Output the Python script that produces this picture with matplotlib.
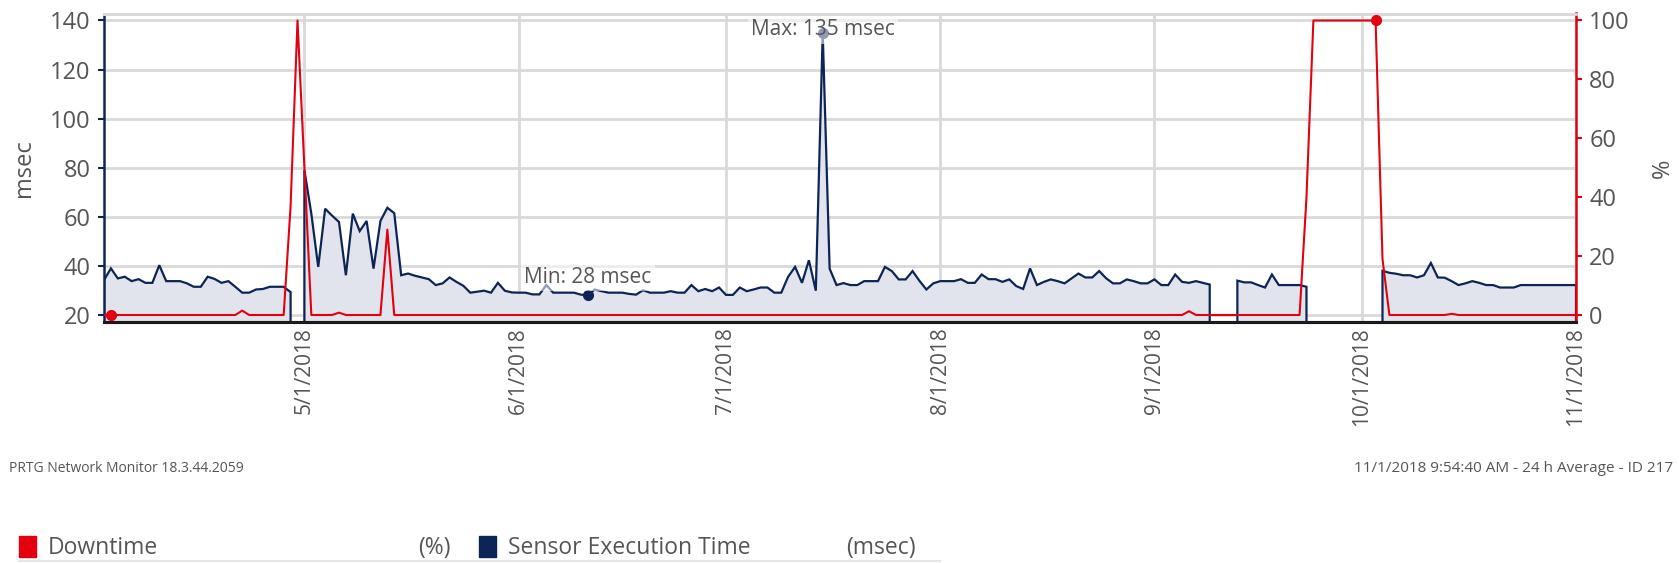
import numpy as np
import pandas as pd
import matplotlib
matplotlib.use("Agg")
import matplotlib.pyplot as plt
import matplotlib.dates as mdates
from matplotlib.patches import Rectangle
from matplotlib.lines import Line2D

plt.rcParams['font.family'] = ['Open Sans', 'DejaVu Sans']

# ---------------- data ----------------
start_date = "2018-04-02"
nan = np.nan
exec_time_msec = [
    34.2, 39.0, 34.9, 35.6, 33.8, 34.6, 33.1, 33.1, 40.3, 33.8,   # 0-9
    33.8, 33.8, 32.9, 31.5, 31.5, 35.6, 34.7, 33.1, 33.8, 31.5,   # 10-19
    29.1, 29.1, 30.4, 30.6, 31.5, 31.5, 31.5, 29.3, nan, 79.0,    # 20-29
    61.3, 39.6, 63.3, 60.5, 57.9, 36.2, 61.3, 54.2, 58.3, 38.9,   # 30-39
    58.3, 63.7, 61.5, 36.2, 36.9, 36.0, 35.3, 34.6, 32.2, 32.9,   # 40-49
    35.3, 33.5, 31.9, 29.1, 29.5, 29.9, 29.1, 33.1, 29.9, 29.2,   # 50-59
    29.1, 29.1, 28.4, 28.4, 32.2, 29.1, 29.1, 29.1, 29.1, 28.3,   # 60-69
    28.0, 30.4, 29.7, 29.1, 29.1, 29.1, 28.6, 28.3, 30.1, 29.1,   # 70-79
    29.1, 29.1, 29.7, 29.1, 29.1, 32.2, 29.7, 30.6, 29.7, 31.2,   # 80-89
    28.2, 28.2, 31.2, 29.7, 30.4, 31.2, 31.2, 29.1, 29.1, 35.6,   # 90-99
    39.6, 33.1, 42.3, 29.9, 135.0, 38.9, 32.2, 33.0, 32.2, 32.2,  # 100-109
    33.8, 33.8, 33.8, 39.6, 37.9, 34.5, 34.5, 37.9, 33.9, 30.4,   # 110-119
    32.9, 33.8, 33.8, 33.8, 34.6, 33.1, 33.1, 36.5, 34.6, 34.6,   # 120-129
    33.5, 34.5, 31.8, 30.6, 39.0, 32.2, 33.5, 34.5, 33.8, 32.9,   # 130-139
    34.9, 36.9, 35.3, 35.3, 37.9, 35.0, 32.9, 32.9, 34.5, 33.8,   # 140-149
    32.9, 32.9, 34.5, 32.2, 32.2, 36.5, 33.5, 33.1, 33.8, 33.1,   # 150-159
    32.4, nan, nan, nan, 34.0, 33.3, 33.3, 32.2, 31.2, 36.5,      # 160-169
    32.2, 32.2, 32.2, 32.2, 31.5, nan, nan, nan, nan, nan,        # 170-179
    nan, nan, nan, nan, nan, 38.0, 37.2, 36.8, 36.2, 36.2,        # 180-189
    35.3, 36.2, 41.2, 35.3, 35.2, 33.8, 32.2, 32.9, 33.8, 33.1,   # 190-199
    32.2, 32.2, 31.2, 31.2, 31.2, 32.2, 32.2, 32.2, 32.2, 32.2,   # 200-209
    32.2, 32.2, 32.2, 32.2,                                       # 210-213
]
downtime_pct = [0.0] * len(exec_time_msec)
downtime_events = {20: 1.5, 27: 37.0, 28: 100.0, 29: 50.0, 34: 0.8, 41: 29.0,
                   157: 1.3, 174: 40.0, 175: 100.0, 176: 100.0, 177: 100.0,
                   178: 100.0, 179: 100.0, 180: 100.0, 181: 100.0, 182: 100.0,
                   183: 100.0, 184: 100.0, 185: 19.0, 195: 0.4}
for k, v in downtime_events.items():
    downtime_pct[k] = v
downtime_min_day = 1

tick_dates = ["2018-05-01", "2018-06-01", "2018-07-01", "2018-08-01",
              "2018-09-01", "2018-10-01", "2018-11-01"]
tick_labels = ["5/1/2018", "6/1/2018", "7/1/2018", "8/1/2018",
               "9/1/2018", "10/1/2018", "11/1/2018"]
msec_ticks = [20, 40, 60, 80, 100, 120, 140]
pct_ticks = [0, 20, 40, 60, 80, 100]

# ---------------- styling ----------------
NAVY = "#0c2557"
RED = "#e3000f"
FILL = "#e1e4ec"
GRID = "#d9d9d9"
TXT = "#555555"

W, H = 1679, 563
fig = plt.figure(figsize=(W / 100, H / 100), dpi=100)
L, R, T, B = 104, 1576, 13.5, 322
ax = fig.add_axes([L / W, 1 - B / H, (R - L) / W, (B - T) / H])
ax2 = ax.twinx()

dates = pd.date_range(start_date, periods=len(exec_time_msec), freq="D")
x = mdates.date2num(dates)
y = np.array(exec_time_msec, dtype=float)
d = np.array(downtime_pct, dtype=float)

ymin, ymax = 17.15, 142.85
ax.set_ylim(ymin, ymax)
ax2.set_ylim((ymin - 20) / 1.2, (ymax - 20) / 1.2)
ax.set_xlim(x[0], mdates.date2num(pd.Timestamp("2018-11-01")))

# grid
ax.set_axisbelow(True)
for v in msec_ticks:
    ax.axhline(v, color=GRID, lw=2, zorder=0)
for td in tick_dates:
    ax.axvline(mdates.date2num(pd.Timestamp(td)), color=GRID, lw=2, zorder=0)

# msec series with gaps
finite = np.isfinite(y)
idx = np.where(finite)[0]
runs = np.split(idx, np.where(np.diff(idx) > 1)[0] + 1)
for r in runs:
    xs = np.concatenate([[x[r[0]]], x[r], [x[r[-1]]]])
    ys = np.concatenate([[ymin], y[r], [ymin]])
    ax.fill_between(x[r], y[r], ymin, color=FILL, lw=0, zorder=1)
    ax.plot(xs, ys, color=NAVY, lw=1.6, zorder=3, solid_joinstyle="miter")

# downtime series
ax2.plot(x, d, color=RED, lw=1.5, zorder=4)

# min / max markers
imin = int(np.nanargmin(y))
imax = int(np.nanargmax(y))
ax.plot(x[imin], y[imin], "o", color=NAVY, ms=7, zorder=5)
ax.plot(x[imax], y[imax], "o", color=NAVY, ms=7, zorder=5)
bbox = dict(boxstyle="square,pad=0.15", fc="white", ec="none", alpha=0.55)
ax.annotate(f"Min: {y[imin]:.0f} msec", (x[imin], y[imin]), xytext=(0, 13),
            textcoords="offset points", ha="center", va="center",
            fontsize=15, color=TXT, bbox=bbox, zorder=6)
ax.annotate(f"Max: {y[imax]:.0f} msec", (x[imax], y[imax]), xytext=(0, 2),
            textcoords="offset points", ha="center", va="center",
            fontsize=15, color=TXT, bbox=bbox, zorder=6)
dmax = int(np.where(d == d.max())[0][-1])
ax2.plot(x[downtime_min_day], d[downtime_min_day], "o", color=RED, ms=7, zorder=6)
ax2.plot(x[dmax], d[dmax], "o", color=RED, ms=7, zorder=6)

# axes styling
ax.set_yticks(msec_ticks)
ax.set_yticklabels([str(v) for v in msec_ticks])
ax2.set_yticks(pct_ticks)
ax2.set_yticklabels([str(v) for v in pct_ticks])
ax.set_xticks(mdates.date2num(pd.to_datetime(tick_dates)))
ax.set_xticklabels(tick_labels, rotation=90)

ax.tick_params(axis="x", length=0, pad=4, labelsize=15, labelcolor=TXT)
ax.tick_params(axis="y", length=4.5, width=1.5, color=NAVY, pad=5,
               labelsize=17, labelcolor=TXT)
ax2.tick_params(axis="y", length=4.5, width=1.5, color=RED, pad=5,
                labelsize=17, labelcolor=TXT)

for a in (ax, ax2):
    a.spines["top"].set_color(GRID)
    a.spines["top"].set_linewidth(2)
ax.spines["left"].set_color(NAVY)
ax.spines["left"].set_linewidth(1.8)
ax.spines["right"].set_visible(False)
ax2.spines["left"].set_visible(False)
ax2.spines["right"].set_color(RED)
ax2.spines["right"].set_linewidth(1.8)
for a in (ax, ax2):
    a.spines["bottom"].set_color("#1a1a1a")
    a.spines["bottom"].set_linewidth(2.2)
ax.patch.set_visible(False)

fig.text(23.5 / W, 1 - 168 / H, "msec", rotation=90, ha="center", va="center",
         fontsize=17, color=TXT)
fig.text(1663 / W, 1 - 168 / H, "%", rotation=90, ha="center", va="center",
         fontsize=17, color=TXT)

# footer
fig.text(9 / W, 1 - 468 / H, "PRTG Network Monitor 18.3.44.2059", ha="left",
         va="center", fontsize=10, color=TXT)
fig.text(1673 / W, 1 - 468 / H, "11/1/2018 9:54:40 AM - 24 h Average - ID 217",
         ha="right", va="center", fontsize=11, color=TXT)

# legend
legend_items = [("Downtime", "(%)", RED, 19, 418),
                ("Sensor Execution Time", "(msec)", NAVY, 479, 846)]
for name, unit, col, x0, xu in legend_items:
    fig.patches.append(Rectangle((x0 / W, 1 - 557 / H), 17 / W, 21 / H,
                                 transform=fig.transFigure, color=col))
    fig.text((x0 + 29) / W, 1 - 548 / H, name, ha="left", va="center",
             fontsize=16.5, color=TXT)
    fig.text(xu / W, 1 - 548 / H, unit, ha="left", va="center",
             fontsize=16.5, color=TXT)
fig.lines.append(Line2D([19 / W, 940 / W], [1 - 561 / H, 1 - 561 / H],
                        transform=fig.transFigure, color="#e6e6e6", lw=1.5))

fig.savefig("out.png", dpi=100)
